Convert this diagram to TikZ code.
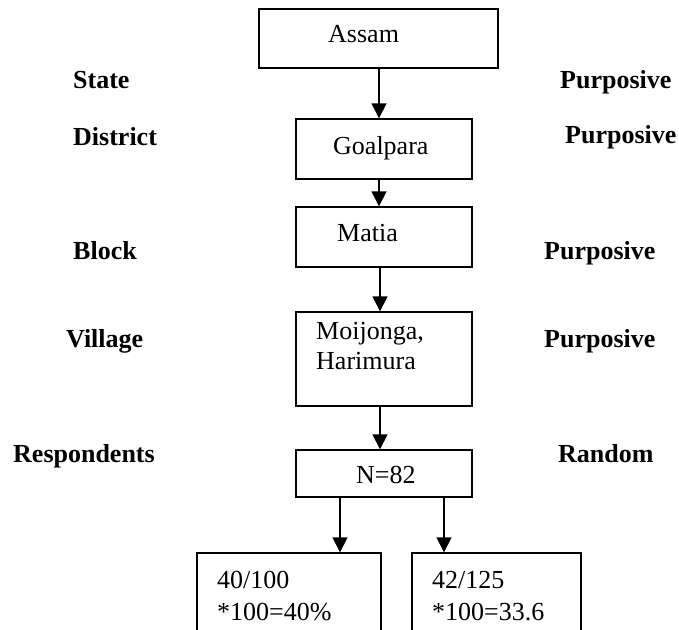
\documentclass[tikz,border=0pt]{standalone}
\usepackage{fontspec}
\setmainfont{Liberation Serif}
\usetikzlibrary{fit,arrows.meta}
\tikzset{
  box/.style={draw, line width=1.4pt, inner sep=0pt, rectangle},
  txt/.style={anchor=base west, inner sep=0pt, font=\fontsize{26}{30}\selectfont},
  lbl/.style={anchor=base west, inner sep=0pt, font=\fontsize{26}{30}\selectfont\bfseries},
  arr/.style={line width=1.6pt, -{Triangle[length=15pt,width=15pt]}},
}
\begin{document}
\begin{tikzpicture}[x=1pt,y=-1pt]
\clip (0,0) rectangle (679,629);
\fill[white] (0,0) rectangle (679,629);
% boxes
\node[box, fit={(259,9) (498,68)}] (assam) {};
\node[box, fit={(296,119) (472,179)}] (goal) {};
\node[box, fit={(296,207) (472,267)}] (matia) {};
\node[box, fit={(296,312) (472,406)}] (vill) {};
\node[box, fit={(296,450) (472,497)}] (n82) {};
\node[box, fit={(197,553) (381,660)}] (b1) {};
\node[box, fit={(412,553) (581,660)}] (b2) {};
% box texts
\node[txt] (tassam) at (328,42) {Assam};
\node[txt] (tgoal) at (333,154) {Goalpara};
\node[txt] (tmatia) at (337,241) {Matia};
\node[txt] (tvill1) at (316,339) {Moijonga,};
\node[txt] (tvill2) at (316,369) {Harimura};
\node[txt] (tn) at (356,483) {N=82};
\node[txt] (tb1a) at (217,588) {40/100};
\node[txt] (tb1b) at (217,620) {*100=40\%};
\node[txt] (tb2a) at (432,588) {42/125};
\node[txt] (tb2b) at (432,620) {*100=33.6};
% left labels
\node[lbl] (lstate) at (73,88) {State};
\node[lbl] (ldist) at (73,145) {District};
\node[lbl] (lblock) at (73,259) {Block};
\node[lbl] (lvill) at (66,347) {Village};
\node[lbl] (lresp) at (13,462) {Respondents};
% right labels
\node[lbl] (r1) at (560,88) {Purposive};
\node[lbl] (r2) at (565,143) {Purposive};
\node[lbl] (r3) at (544,259) {Purposive};
\node[lbl] (r4) at (544,347) {Purposive};
\node[lbl] (r5) at (558,462) {Random};
% column coordinates
\coordinate (c1) at (379,0);
\coordinate (c2) at (380,0);
\coordinate (cl) at (340,0);
\coordinate (cr) at (444,0);
% arrows
\draw[arr] (c1 |- assam.south) -- (c1 |- goal.north);
\draw[arr] (c1 |- goal.south) -- (c1 |- matia.north);
\draw[arr] (c2 |- matia.south) -- (c2 |- vill.north);
\draw[arr] (c2 |- vill.south) -- (c2 |- n82.north);
\draw[arr] (cl |- n82.south) -- (cl |- b1.north);
\draw[arr] (cr |- n82.south) -- (cr |- b2.north);
\end{tikzpicture}
\end{document}
